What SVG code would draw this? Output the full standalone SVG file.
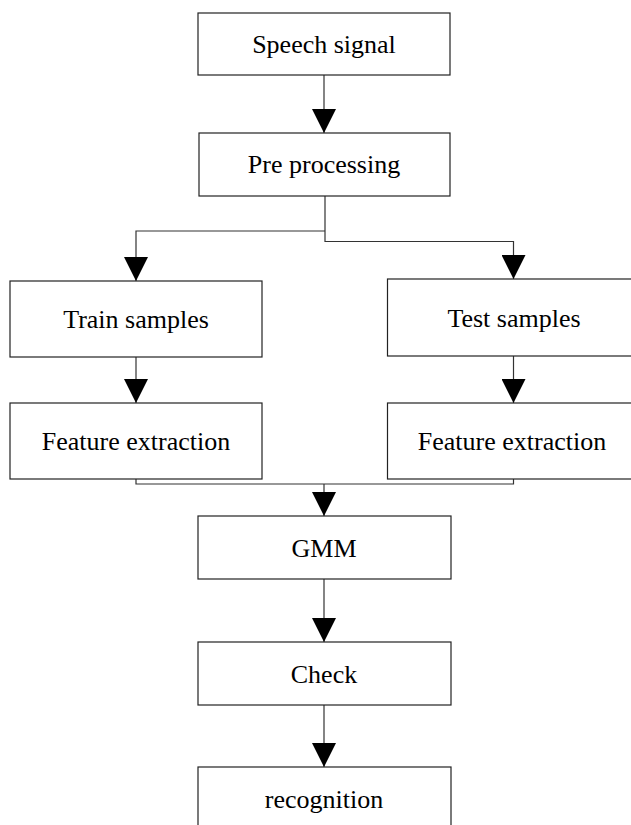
<svg xmlns="http://www.w3.org/2000/svg" width="631" height="825" viewBox="0 0 631 825">
<style>
.box{fill:#fff;stroke:#222;stroke-width:1.2}
.lbl{font-family:"Liberation Serif","Times New Roman",serif;font-size:26px;fill:#000;text-anchor:middle}
.ln{fill:none;stroke:#333;stroke-width:1.2}
</style>
<defs>
<marker id="ah" markerUnits="userSpaceOnUse" markerWidth="24" markerHeight="24" viewBox="0 0 24 24" refX="24" refY="12" orient="auto">
<path d="M0,0 L24,12 L0,24 Z" fill="#000"/>
</marker>
</defs>
<rect width="631" height="825" fill="#fff"/>
<g id="connectors">
<path class="ln" d="M324,75 V133" marker-end="url(#ah)"/>
<path class="ln" d="M325,196 V241.5 H513.5 V279" marker-end="url(#ah)"/>
<path class="ln" d="M325,231 H136 V281" marker-end="url(#ah)"/>
<path class="ln" d="M136,357 V403" marker-end="url(#ah)"/>
<path class="ln" d="M513.5,356 V403" marker-end="url(#ah)"/>
<path class="ln" d="M136,479 V484 H513.5 V479"/>
<path class="ln" d="M324,484 V516" marker-end="url(#ah)"/>
<path class="ln" d="M324,579 V642" marker-end="url(#ah)"/>
<path class="ln" d="M324,705 V767" marker-end="url(#ah)"/>
</g>
<g id="speech"><rect class="box" x="198" y="13" width="252" height="62"/><text class="lbl" x="324" y="53">Speech signal</text></g>
<g id="pre"><rect class="box" x="199" y="133" width="251" height="63"/><text class="lbl" x="324" y="173">Pre processing</text></g>
<g id="train"><rect class="box" x="10" y="281" width="252" height="76"/><text class="lbl" x="136" y="328">Train samples</text></g>
<g id="test"><rect class="box" x="387.5" y="279" width="252" height="77"/><text class="lbl" x="514" y="327">Test samples</text></g>
<g id="feat1"><rect class="box" x="10" y="403" width="252" height="76"/><text class="lbl" x="136" y="450">Feature extraction</text></g>
<g id="feat2"><rect class="box" x="387.5" y="403" width="252" height="76"/><text class="lbl" x="512" y="450">Feature extraction</text></g>
<g id="gmm"><rect class="box" x="198" y="516" width="253" height="63"/><text class="lbl" x="324" y="557">GMM</text></g>
<g id="check"><rect class="box" x="198" y="642" width="253" height="63"/><text class="lbl" x="324" y="683">Check</text></g>
<g id="recog"><rect class="box" x="198" y="767" width="253" height="70"/><text class="lbl" x="324" y="808">recognition</text></g>
</svg>
